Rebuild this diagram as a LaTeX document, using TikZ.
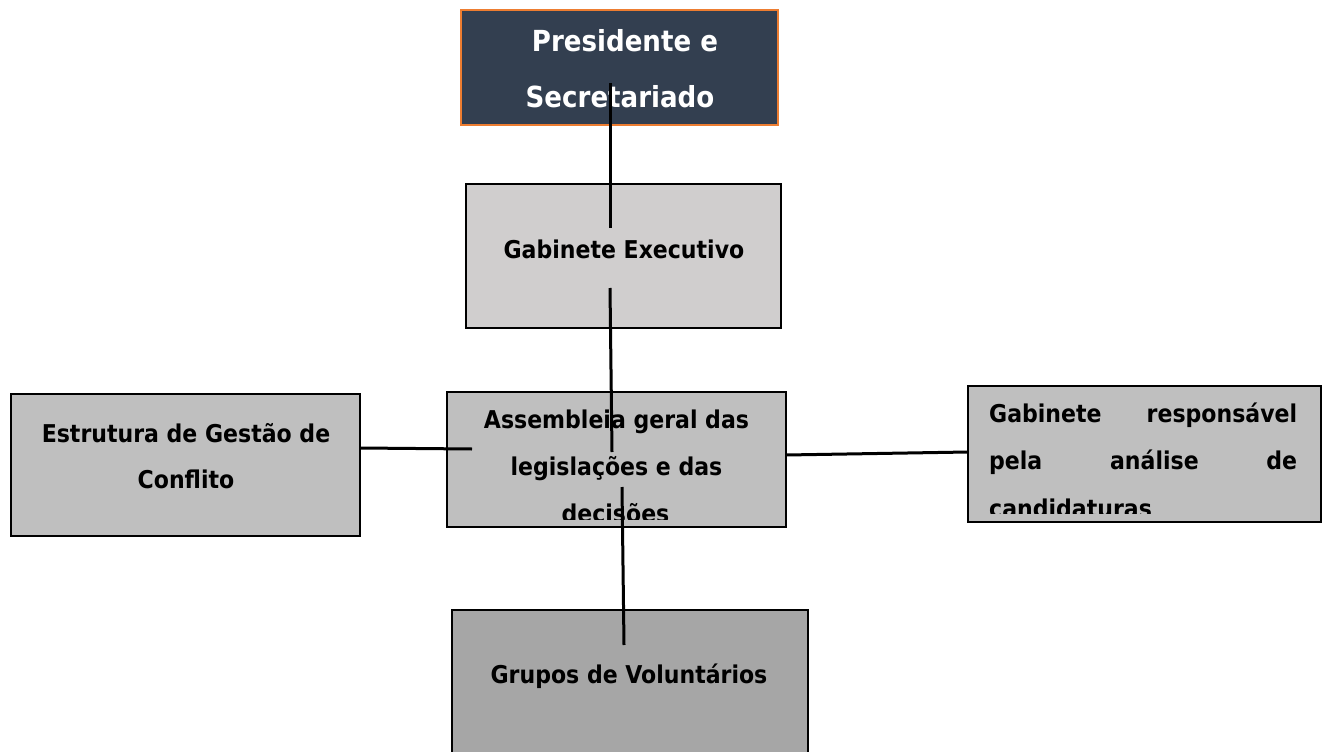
\documentclass[tikz,border=0pt]{standalone}
\usepackage{fontspec}
\setmainfont{DejaVu Sans Condensed}
\definecolor{presfill}{HTML}{333F50}
\definecolor{presdraw}{HTML}{ED7D31}
\definecolor{gabfill}{HTML}{D0CECE}
\definecolor{midfill}{HTML}{BFBFBF}
\definecolor{grpfill}{HTML}{A6A6A6}
\tikzset{
  boxnode/.style={draw=black, line width=2pt, inner sep=0pt, rectangle},
  lbl/.style={inner sep=0pt, anchor=base, font=\fontsize{24.5}{46}\selectfont\bfseries},
  lblw/.style={lbl, anchor=base west},
  preslbl/.style={inner sep=0pt, anchor=base, text=white, font=\fontsize{29}{55}\selectfont\bfseries},
  conn/.style={draw=black, line width=3pt}
}
\begin{document}
\begin{tikzpicture}[x=1pt,y=-1pt]
\useasboundingbox (0,0) rectangle (1323,752);
\clip (0,0) rectangle (1323,752);
% boxes
\node[boxnode, fill=presfill, draw=presdraw, line width=2.5pt, minimum width=317pt, minimum height=115pt] (pres) at (619.5,67.5) {};
\node[boxnode, fill=gabfill, minimum width=315pt, minimum height=144pt] (gab) at (623.5,256) {};
\node[boxnode, fill=midfill, minimum width=339pt, minimum height=135pt] (asm) at (616.5,459.5) {};
\node[boxnode, fill=midfill, minimum width=349pt, minimum height=142pt] (est) at (185.5,465) {};
\node[boxnode, fill=midfill, minimum width=353pt, minimum height=136pt] (cand) at (1144.5,454) {};
\node[boxnode, fill=grpfill, minimum width=356pt, minimum height=150pt] (grp) at (630,685) {};
% texts
\node[preslbl] (pres1) at (625,52) {Presidente e};
\node[preslbl] (pres2) at (620,107) {Secretariado};
\node[lbl] (gab1) at (624,258) {Gabinete Executivo};
\begin{scope}
\clip (448,393) rectangle (785,519);
\node[lbl] (asm1) at (616.5,428) {Assembleia geral das};
\node[lbl] (asm2) at (616.5,475) {legislações e das};
\node[lbl] (asm3) at (615.5,522) {decisões};
\end{scope}
\node[lbl] (est1) at (186,442) {Estrutura de Gestão de};
\node[lbl] (est2) at (186,488) {Conflito};
\begin{scope}
\clip (969,387) rectangle (1320,513);
\node[lblw] (cand1) at (989,422) {\makebox[308pt][s]{Gabinete\hfill responsável}};
\node[lblw] (cand2) at (989,469) {\makebox[308pt][s]{pela\hfill análise\hfill de}};
\node[lblw] (cand3) at (989,517) {candidaturas};
\end{scope}
\node[lbl] (grp1) at (629,683) {Grupos de Voluntários};
% connector ends
\coordinate (p1) at (610,83);
\coordinate (g1) at (610,228);
\coordinate (g2) at (610,288);
\coordinate (a1) at (612,452);
\coordinate (a2) at (622,487);
\coordinate (v1) at (624,645);
\coordinate (e1) at (360,448);
\coordinate (a3) at (472,449);
\coordinate (a4) at (786,455);
\coordinate (c1) at (968,452);
% connectors
\draw[conn] (p1) -- (g1);
\draw[conn] (g2) -- (a1);
\draw[conn] (a2) -- (v1);
\draw[conn] (e1) -- (a3);
\draw[conn] (a4) -- (c1);
\end{tikzpicture}
\end{document}
